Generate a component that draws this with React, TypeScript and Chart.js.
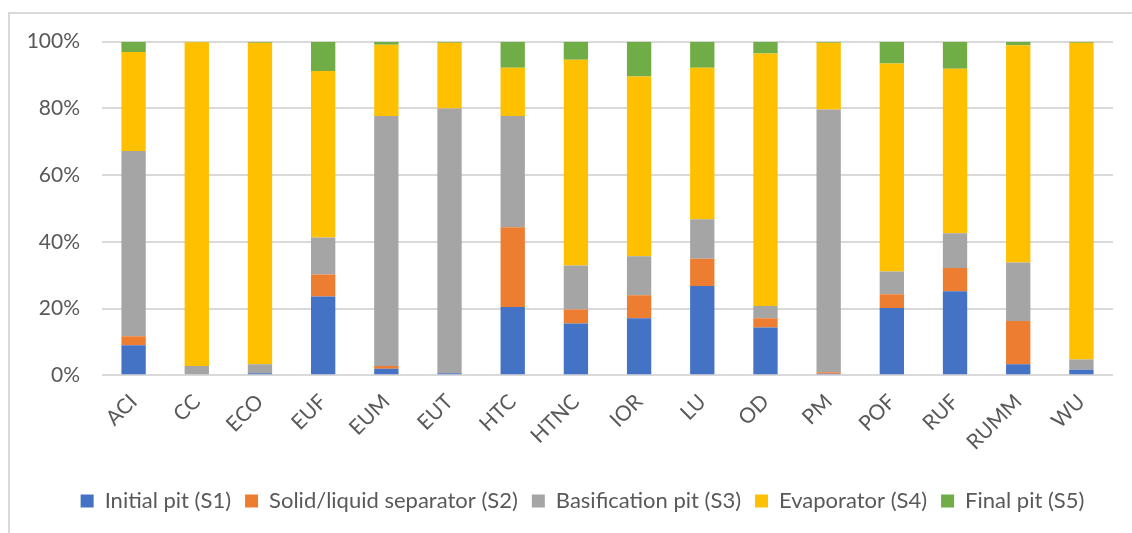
import React, { useEffect, useRef } from "react";
import { Chart, registerables } from "chart.js";

Chart.register(...registerables);

const categories = ["ACI", "CC", "ECO", "EUF", "EUM", "EUT", "HTC", "HTNC", "IOR", "LU", "OD", "PM", "POF", "RUF", "RUMM", "WU"];
const initialPit = [9.0, 0, 0.6, 23.6, 2.0, 0.6, 20.5, 15.5, 17.1, 26.8, 14.3, 0.5, 20.2, 25.2, 3.3, 1.7];
const separator = [2.7, 0, 0, 6.6, 0.8, 0, 23.9, 4.2, 6.9, 8.1, 2.8, 0.4, 4.1, 7.0, 13.0, 0];
const basification = [55.5, 2.8, 2.7, 11.1, 74.9, 79.4, 33.3, 13.2, 11.7, 11.9, 3.7, 78.8, 6.8, 10.4, 17.5, 3.0];
const evaporator = [29.7, 97.0, 96.4, 49.9, 21.4, 19.7, 14.5, 61.7, 53.9, 45.4, 75.7, 20.0, 62.4, 49.3, 65.1, 95.0];
const finalPit = [3.1, 0.2, 0.3, 8.8, 0.9, 0.3, 7.8, 5.4, 10.4, 7.8, 3.5, 0.3, 6.5, 8.1, 1.1, 0.3];
const seriesLabels = ["Initial pit (S1)", "Solid/liquid separator (S2)", "Basification pit (S3)", "Evaporator (S4)", "Final pit (S5)"];
const seriesColors = ["#4472C4", "#ED7D31", "#A5A5A5", "#FFC000", "#70AD47"];
const yTicks = [0, 20, 40, 60, 80, 100];

const FONT = "Lato, 'Open Sans', sans-serif";
const LEGEND_SHIFT = 26;

const shiftLegend = {
  id: "shiftLegend",
  afterLayout(chart: any) {
    const l = chart.legend;
    if (l) {
      l.left += LEGEND_SHIFT;
      l.right += LEGEND_SHIFT;
    }
  },
};

export default function App() {
  const ref = useRef<HTMLCanvasElement | null>(null);

  useEffect(() => {
    document.body.style.overflow = "hidden";
    const canvas = ref.current;
    if (!canvas) return;
    const seriesData = [initialPit, separator, basification, evaporator, finalPit];
    const chart = new Chart(canvas, {
      type: "bar",
      data: {
        labels: categories,
        datasets: seriesData.map((d, i) => ({
          label: seriesLabels[i],
          data: d,
          backgroundColor: seriesColors[i],
          borderWidth: 0,
          barPercentage: 0.385,
          categoryPercentage: 1,
        })),
      },
      plugins: [shiftLegend],
      options: {
        animation: false,
        responsive: false,
        layout: { padding: { left: 0, right: 19, top: 41.7, bottom: 11 } },
        plugins: {
          tooltip: { enabled: false },
          legend: {
            position: "bottom",
            labels: {
              color: "#595959",
              font: { family: FONT, size: 22 },
              boxWidth: 13,
              boxHeight: 13,
              padding: 14,
            },
          },
        },
        scales: {
          x: {
            stacked: true,
            grid: { display: false },
            border: { display: false },
            ticks: {
              color: "#595959",
              font: { family: FONT, size: 21 },
              maxRotation: 45,
              minRotation: 45,
              padding: 6,
            },
            afterFit: (scale: any) => {
              scale.height = 100.7;
            },
          },
          y: {
            stacked: true,
            min: 0,
            max: 100,
            afterBuildTicks: (scale: any) => {
              scale.ticks = yTicks.map((v) => ({ value: v }));
            },
            grid: { color: "#d9d9d9", lineWidth: 2, drawTicks: false },
            border: { display: false },
            ticks: {
              color: "#595959",
              font: { family: FONT, size: 21 },
              padding: 22,
              callback: (v: any) => v + "%",
            },
            afterFit: (scale: any) => {
              scale.width = 102;
            },
          },
        },
      },
    });
    return () => chart.destroy();
  }, []);

  return (
    <div style={{ position: "fixed", left: 0, top: 0, width: 1132, height: 533, background: "#fff" }}>
      <div
        style={{
          position: "absolute",
          left: 8,
          top: 12,
          width: 1200,
          height: 600,
          borderLeft: "2px solid #d9d9d9",
          borderTop: "2px solid #d9d9d9",
          boxSizing: "border-box",
        }}
      />
      <canvas ref={ref} width={1132} height={533} style={{ position: "absolute", left: 0, top: 0 }} />
    </div>
  );
}
